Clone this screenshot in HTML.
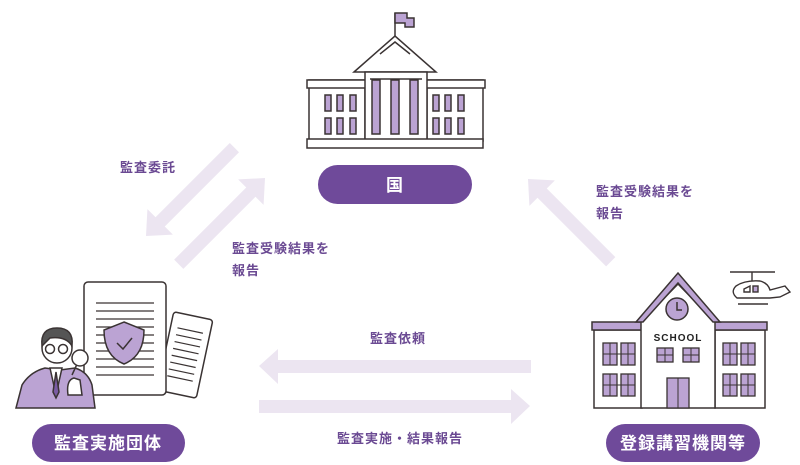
<!DOCTYPE html>
<html><head><meta charset="utf-8"><style>
html,body{margin:0;padding:0;background:#fff;}
svg{display:block}
text{font-family:"Liberation Sans","Noto Sans CJK JP",sans-serif;font-weight:bold;}
.l{fill:#6b4a93;font-size:13px;letter-spacing:1px}
.p{fill:#fff;font-size:17px;letter-spacing:1px}
</style></head><body>
<svg width="800" height="465" viewBox="0 0 800 465" xmlns="http://www.w3.org/2000/svg">
<defs>
<path id="arr" d="M0,-6.5 L-20,-6.5 L-20,-18 L-39,0 L-20,18 L-20,6.5 L0,6.5 Z" fill="#ece5f1"/>
</defs>
<!-- diagonal arrows: drawn with tip at origin pointing -x, shaft extending to +x -->
<g transform="translate(146,236) rotate(-45)"><path d="M0,0 L20,-18 L20,-6.5 L125,-6.5 L125,6.5 L20,6.5 L20,18 Z" fill="#ece5f1"/></g>
<g transform="translate(265,178) rotate(135)"><path d="M0,0 L20,-18 L20,-6.5 L122,-6.5 L122,6.5 L20,6.5 L20,18 Z" fill="#ece5f1"/></g>
<g transform="translate(528,179) rotate(45)"><path d="M0,0 L20,-18 L20,-6.5 L117,-6.5 L117,6.5 L20,6.5 L20,18 Z" fill="#ece5f1"/></g>
<!-- horizontal -->
<path d="M259,366 L278,349 L278,360 L531,360 L531,373 L278,373 L278,384 Z" fill="#ece5f1"/>
<path d="M530,406 L511,389 L511,400 L259,400 L259,413 L511,413 L511,424 Z" fill="#ece5f1"/>

<!-- labels -->
<text class="l" x="120" y="172">監査委託</text>
<text class="l" x="232" y="253">監査受験結果を</text>
<text class="l" x="232" y="275">報告</text>
<text class="l" x="596" y="196">監査受験結果を</text>
<text class="l" x="596" y="218">報告</text>
<text class="l" x="398" y="343" text-anchor="middle">監査依頼</text>
<text class="l" x="400" y="443" text-anchor="middle">監査実施・結果報告</text>

<!-- pills -->
<rect x="318" y="165" width="154" height="39" rx="19.5" fill="#6f4a9a"/>
<text class="p" x="395" y="191" text-anchor="middle">国</text>
<rect x="32" y="424" width="153" height="38" rx="19" fill="#6f4a9a"/>
<text class="p" x="108" y="449" text-anchor="middle">監査実施団体</text>
<rect x="606" y="424" width="154" height="38" rx="19" fill="#6f4a9a"/>
<text class="p" x="683" y="449" text-anchor="middle">登録講習機関等</text>

<!-- government building -->
<g stroke="#3a3333" stroke-width="1.5" fill="#fff">
<line x1="395" y1="13" x2="395" y2="36"/>
<path d="M395,13 L407,13 L407,18 L414,18 L414,27 L405,27 L405,23 L395,23 Z" fill="#bba3d3"/>
<path d="M354,72 L395,36 L436,72 Z"/>
<path d="M380,54 L395,42 L410,54" fill="none"/>
<rect x="309" y="80" width="56" height="61"/>
<rect x="427" y="80" width="56" height="61"/>
<rect x="307" y="80" width="60" height="8"/>
<rect x="425" y="80" width="60" height="8"/>
<rect x="365" y="72" width="62" height="69"/>
<line x1="370" y1="79" x2="422" y2="79"/>
<rect x="307" y="139" width="176" height="9"/>
<g fill="#bba3d3">
<rect x="372" y="80" width="8" height="54"/><rect x="391" y="80" width="8" height="54"/><rect x="410" y="80" width="8" height="54"/>
<rect x="325" y="95" width="6" height="16"/><rect x="337" y="95" width="6" height="16"/><rect x="350" y="95" width="6" height="16"/>
<rect x="325" y="118" width="6" height="16"/><rect x="337" y="118" width="6" height="16"/><rect x="350" y="118" width="6" height="16"/>
<rect x="433" y="95" width="6" height="16"/><rect x="445" y="95" width="6" height="16"/><rect x="458" y="95" width="6" height="16"/>
<rect x="433" y="118" width="6" height="16"/><rect x="445" y="118" width="6" height="16"/><rect x="458" y="118" width="6" height="16"/>
</g>
</g>

<!-- auditor -->
<g stroke="#3a3333" stroke-width="1.5">
<g transform="rotate(12 185 355)"><rect x="165" y="315" width="40" height="80" rx="3" fill="#fff"/>
<g stroke-width="1.2"><line x1="172" y1="330" x2="198" y2="330"/><line x1="172" y1="337" x2="198" y2="337"/><line x1="172" y1="344" x2="198" y2="344"/><line x1="172" y1="351" x2="198" y2="351"/><line x1="172" y1="358" x2="198" y2="358"/><line x1="172" y1="365" x2="198" y2="365"/><line x1="172" y1="372" x2="198" y2="372"/><line x1="172" y1="379" x2="198" y2="379"/></g></g>
<rect x="84" y="282" width="82" height="113" rx="4" fill="#fff"/>
<g stroke-width="1.2"><line x1="96" y1="303" x2="154" y2="303"/><line x1="96" y1="311" x2="154" y2="311"/><line x1="96" y1="319" x2="154" y2="319"/><line x1="96" y1="327" x2="154" y2="327"/><line x1="96" y1="335" x2="154" y2="335"/><line x1="96" y1="343" x2="154" y2="343"/><line x1="96" y1="351" x2="154" y2="351"/><line x1="96" y1="359" x2="154" y2="359"/><line x1="96" y1="367" x2="154" y2="367"/><line x1="96" y1="375" x2="154" y2="375"/></g>
<path d="M124,322 L144,330 Q144,356 124,364 Q104,356 104,330 Z" fill="#bba3d3"/>
<path d="M117,343 L123,349 L132,338" fill="none"/>
<path d="M16,408 L22,385 Q30,372 45,368 L60,370 L75,368 Q88,372 92,385 L95,408 Z" fill="#bba3d3"/>
<path d="M50,368 L56,395 L62,368 Z" fill="#fff"/>
<path d="M56,372 L53,392 L56,398 L59,392 Z" fill="#7a5ba3"/>
<circle cx="57" cy="348" r="15" fill="#fff"/>
<path d="M42,346 Q40,328 57,328 Q74,328 72,346 Q66,336 50,338 Z" fill="#555"/>
<circle cx="50" cy="349" r="4.5" fill="none"/><circle cx="63" cy="349" r="4.5" fill="none"/>
<line x1="72" y1="375" x2="78" y2="362"/>
<circle cx="80" cy="358" r="8" fill="#fff"/>
<path d="M68,395 Q66,380 74,378 L80,380 L82,395 Z" fill="#fff"/>
</g>

<!-- school -->
<g stroke="#3a3333" stroke-width="1.5" fill="#fff">
<rect x="594" y="330" width="48" height="78"/>
<rect x="715" y="330" width="50" height="78"/>
<rect x="592" y="322" width="52" height="8" fill="#bba3d3"/>
<rect x="713" y="322" width="54" height="8" fill="#bba3d3"/>
<path d="M641,322 L678,284 L715,322 L715,408 L641,408 Z"/>
<path d="M636,322 L678,273 L720,322 L713,322 L678,283 L643,322 Z" fill="#bba3d3"/>
<circle cx="677" cy="309" r="11" fill="#bba3d3"/>
<path d="M677,302 L677,310 L682,310" fill="none"/>
<g fill="#bba3d3" stroke-width="1.3">
<rect x="657" y="348" width="16" height="14"/><rect x="683" y="348" width="16" height="14"/>
<rect x="667" y="378" width="22" height="30"/>
<rect x="603" y="343" width="14" height="22"/><rect x="621" y="343" width="14" height="22"/>
<rect x="603" y="374" width="14" height="22"/><rect x="621" y="374" width="14" height="22"/>
<rect x="723" y="343" width="14" height="22"/><rect x="741" y="343" width="14" height="22"/>
<rect x="723" y="374" width="14" height="22"/><rect x="741" y="374" width="14" height="22"/>
</g>
<g stroke-width="1" fill="none"><line x1="665" y1="348" x2="665" y2="362"/><line x1="691" y1="348" x2="691" y2="362"/><line x1="657" y1="355" x2="673" y2="355"/><line x1="683" y1="355" x2="699" y2="355"/><line x1="678" y1="378" x2="678" y2="408"/>
<line x1="610" y1="343" x2="610" y2="365"/><line x1="628" y1="343" x2="628" y2="365"/><line x1="610" y1="374" x2="610" y2="396"/><line x1="628" y1="374" x2="628" y2="396"/>
<line x1="730" y1="343" x2="730" y2="365"/><line x1="748" y1="343" x2="748" y2="365"/><line x1="730" y1="374" x2="730" y2="396"/><line x1="748" y1="374" x2="748" y2="396"/>
<line x1="603" y1="354" x2="635" y2="354"/><line x1="603" y1="385" x2="635" y2="385"/><line x1="723" y1="354" x2="755" y2="354"/><line x1="723" y1="385" x2="755" y2="385"/></g>
<!-- helicopter -->
<g fill="none" stroke-width="1.4">
<line x1="730" y1="272" x2="775" y2="272"/><line x1="752" y1="272" x2="752" y2="281"/>
<path d="M737,298 Q730,292 736,286 Q745,280 760,281 Q768,283 770,290 L785,286 L790,292 L780,297 L770,298 Z"/>
<rect x="753" y="286" width="5" height="6" fill="#bba3d3"/>
<path d="M744,289 L750,286 L750,292 L744,292 Z"/>
<line x1="738" y1="304" x2="768" y2="304"/>
</g>
</g>
<text x="678" y="341" text-anchor="middle" style="font-size:10px;fill:#222;letter-spacing:1px">SCHOOL</text>
</svg>
</body></html>
